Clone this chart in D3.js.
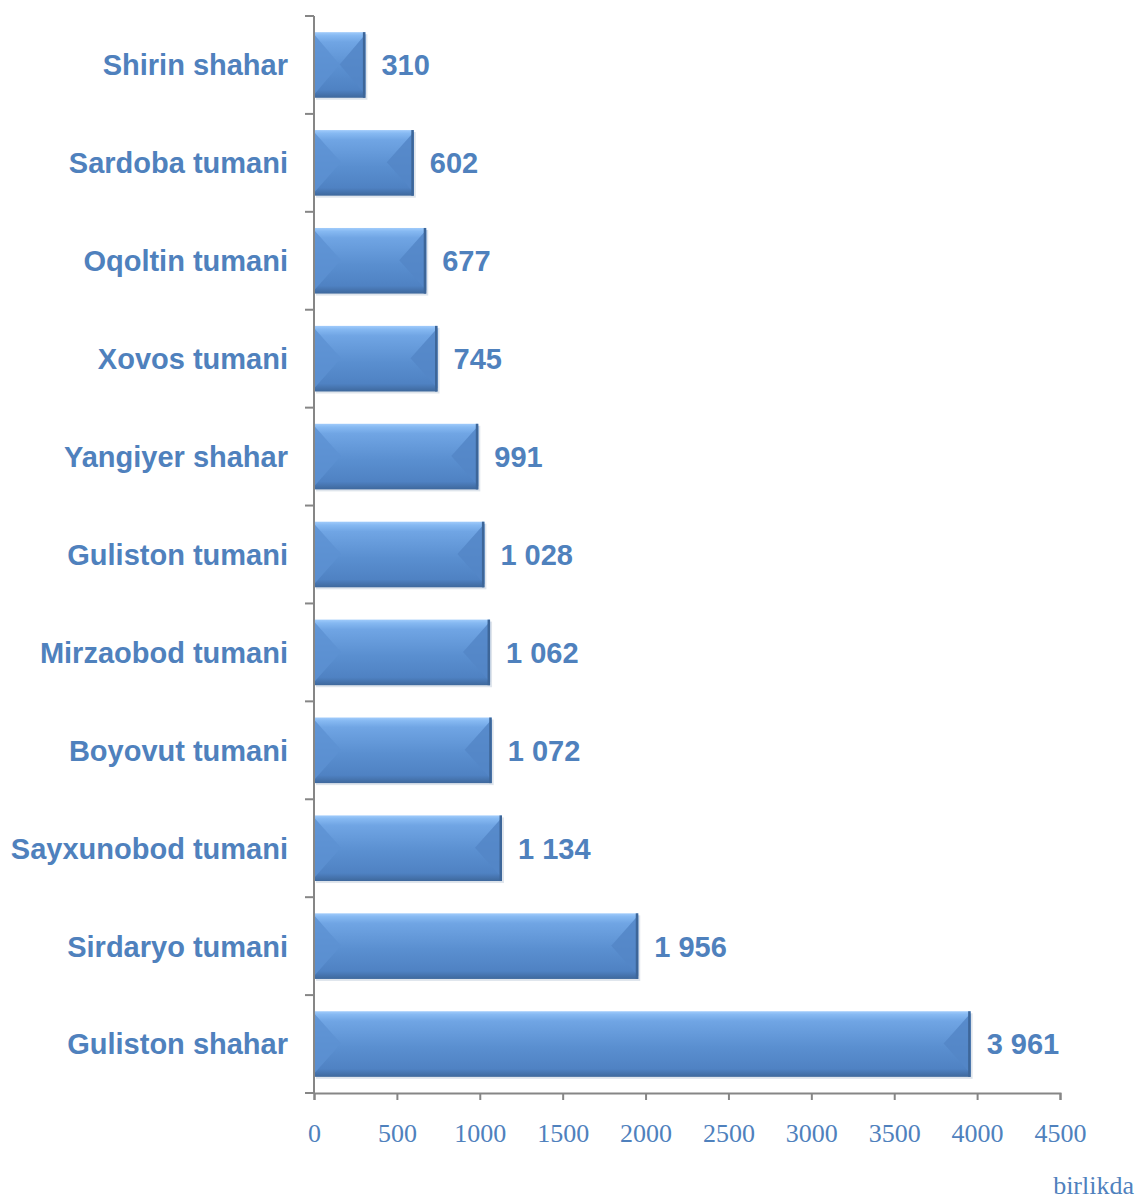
<!DOCTYPE html>
<html>
<head>
<meta charset="utf-8">
<script src="https://cdn.jsdelivr.net/npm/d3@7"></script>
<style>
    body { margin: 0; background: #fff; }
    svg { display: block; }
</style>
</head>
<body>
<div id="chart"></div>
<script>
var categories = ["Shirin shahar", "Sardoba tumani", "Oqoltin tumani", "Xovos tumani", "Yangiyer shahar",
    "Guliston tumani", "Mirzaobod tumani", "Boyovut tumani", "Sayxunobod tumani", "Sirdaryo tumani", "Guliston shahar"];
var values = [310, 602, 677, 745, 991, 1028, 1062, 1072, 1134, 1956, 3961];
var valueLabels = ["310", "602", "677", "745", "991", "1 028", "1 062", "1 072", "1 134", "1 956", "3 961"];
var xTicks = [0, 500, 1000, 1500, 2000, 2500, 3000, 3500, 4000, 4500];
var unitLabel = "birlikda";

var width = 1136, height = 1199;
var plotLeft = 314, plotRight = 1060, plotTop = 16, plotBottom = 1093;
var textColor = "#4f81bd", axisColor = "#868686";

var svg = d3.select("#chart").append("svg")
    .attr("width", width)
    .attr("height", height);

var defs = svg.append("defs");
var grad = defs.append("linearGradient")
    .attr("id", "barGrad")
    .attr("x1", 0).attr("y1", 0).attr("x2", 0).attr("y2", 1);
grad.append("stop").attr("offset", "0%").attr("stop-color", "#a0cbfb");
grad.append("stop").attr("offset", "5%").attr("stop-color", "#86b9f2");
grad.append("stop").attr("offset", "15%").attr("stop-color", "#70a5e4");
grad.append("stop").attr("offset", "55%").attr("stop-color", "#5a8fd0");
grad.append("stop").attr("offset", "88%").attr("stop-color", "#4f82c3");
grad.append("stop").attr("offset", "93%").attr("stop-color", "#4877b3");
grad.append("stop").attr("offset", "100%").attr("stop-color", "#3e689c");

var x = d3.scaleLinear()
    .domain([0, 4500])
    .range([plotLeft, plotRight]);

var y = d3.scaleBand()
    .domain(categories)
    .range([plotTop, plotBottom])
    .paddingInner(0.33)
    .paddingOuter(0.165);

// bars
var bars = svg.selectAll(".bar")
    .data(values)
    .enter()
    .append("g")
    .attr("class", "bar");

// light shadow
bars.append("rect")
    .attr("x", x(0) + 2)
    .attr("y", function (d, i) { return y(categories[i]) + 2; })
    .attr("width", function (d) { return x(d) - x(0); })
    .attr("height", y.bandwidth())
    .attr("fill", "#c9d3df")
    .attr("opacity", 0.6);

bars.append("rect")
    .attr("x", x(0))
    .attr("y", function (d, i) { return y(categories[i]); })
    .attr("width", function (d) { return x(d) - x(0); })
    .attr("height", y.bandwidth())
    .attr("fill", "url(#barGrad)");

// left bevel
bars.append("path")
    .attr("d", function (d, i) {
        var x0 = x(0), y0 = y(categories[i]) + 2, h = y.bandwidth() - 5;
        var b = Math.min(27, (x(d) - x0) / 2);
        return "M" + x0 + "," + y0 + "L" + (x0 + b) + "," + (y0 + h / 2) + "L" + x0 + "," + (y0 + h) + "Z";
    })
    .attr("fill", "#5c91d2")
    .attr("opacity", 0.8);

// right bevel
bars.append("path")
    .attr("d", function (d, i) {
        var x1 = x(d), y0 = y(categories[i]) + 2, h = y.bandwidth() - 5;
        var b = Math.min(27, (x1 - x(0)) / 2);
        return "M" + x1 + "," + y0 + "L" + (x1 - b) + "," + (y0 + h / 2) + "L" + x1 + "," + (y0 + h) + "Z";
    })
    .attr("fill", "#5386c7")
    .attr("opacity", 0.85);

// right dark edge
bars.append("rect")
    .attr("x", function (d) { return x(d) - 2.5; })
    .attr("y", function (d, i) { return y(categories[i]); })
    .attr("width", 2.5)
    .attr("height", y.bandwidth())
    .attr("fill", "#3d6699");

// axes
var xAxis = d3.axisBottom(x)
    .tickValues(xTicks)
    .tickSize(7)
    .tickFormat(d3.format("d"));

var gx = svg.append("g")
    .attr("transform", "translate(0," + plotBottom + ")")
    .call(xAxis);
gx.select(".domain").attr("stroke", axisColor).attr("stroke-width", 2);
gx.selectAll(".tick line").attr("stroke", axisColor).attr("stroke-width", 2);
gx.selectAll(".tick text")
    .attr("y", 31)
    .attr("dy", "0.71em")
    .attr("fill", textColor)
    .style("font-family", "'Liberation Serif', 'Times New Roman', serif")
    .style("font-size", "26px");

svg.append("line")
    .attr("x1", plotLeft).attr("x2", plotLeft)
    .attr("y1", plotTop).attr("y2", plotBottom)
    .attr("stroke", axisColor)
    .attr("stroke-width", 2);

var boundaries = d3.range(categories.length + 1).map(function (i) {
    return plotTop + i * y.step();
});
svg.selectAll(".ytick")
    .data(boundaries)
    .enter()
    .append("line")
    .attr("x1", plotLeft - 9).attr("x2", plotLeft)
    .attr("y1", function (d) { return d; })
    .attr("y2", function (d) { return d; })
    .attr("stroke", axisColor)
    .attr("stroke-width", 2);

// category labels
svg.selectAll(".cat")
    .data(categories)
    .enter()
    .append("text")
    .attr("x", 288)
    .attr("y", function (d) { return y(d) + y.bandwidth() / 2; })
    .attr("dy", "0.36em")
    .attr("text-anchor", "end")
    .attr("fill", textColor)
    .style("font-family", "'Liberation Sans', Arial, sans-serif")
    .style("font-weight", "bold")
    .style("font-size", "29px")
    .text(function (d) { return d; });

// value labels
svg.selectAll(".val")
    .data(values)
    .enter()
    .append("text")
    .attr("x", function (d) { return x(d) + 16; })
    .attr("y", function (d, i) { return y(categories[i]) + y.bandwidth() / 2; })
    .attr("dy", "0.36em")
    .attr("fill", textColor)
    .style("font-family", "'Liberation Sans', Arial, sans-serif")
    .style("font-weight", "bold")
    .style("font-size", "29px")
    .text(function (d, i) { return valueLabels[i]; });

svg.append("text")
    .attr("x", 1134)
    .attr("y", 1194)
    .attr("text-anchor", "end")
    .attr("fill", textColor)
    .style("font-family", "'Liberation Serif', 'Times New Roman', serif")
    .style("font-size", "26px")
    .text(unitLabel);
</script>
</body>
</html>
